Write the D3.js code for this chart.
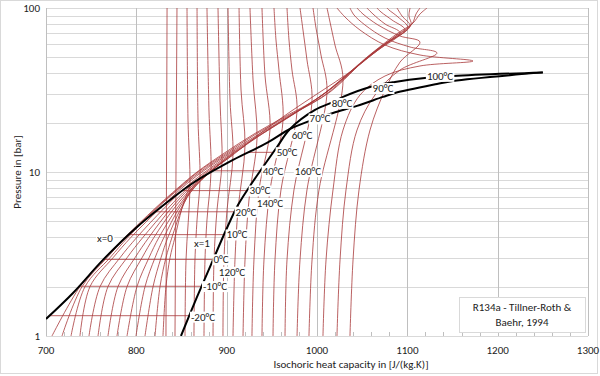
<!DOCTYPE html>
<html>
<head>
<meta charset="utf-8">
<script src="https://cdn.jsdelivr.net/npm/d3@7"></script>
<style>
body { margin: 0; background: #fff; }
text { font-family: Carlito, "Liberation Sans Narrow", "Liberation Sans", sans-serif; }
</style>
</head>
<body>
<svg id="chart" width="600" height="376"></svg>
<script>
// saturation curves, [cv J/(kg.K), p bar]
var satX0 = [[700,1.27],[729.9,1.83],[763.1,2.91],[800.7,4.62],[837.3,6.75],[862.7,8.57],[907,11.84],[944.6,15.03],[970.1,18.29],
  [992.2,20.5],[1017.7,22.9],[1044.3,25.3],[1073,28.7],[1086.3,30.3],[1132.8,34.4],[1150.5,35.9],[1250,40.5]];
var satX1 = [[849.4,1],[867.2,1.73],[884.9,2.91],[899.3,4.43],[912.5,6.29],[925.8,8.22],[940.2,10.73],[955.7,14.2],[970.1,18.29],
  [997.8,23.9],[1017.7,26.7],[1028.8,28.7],[1058.7,33.0],[1086.3,35.4],[1119.5,37.4],[1150.5,38.5],[1250,40.5]];

// two phase isotherms: temperature, p sat, cv at x=0, cv at x=1
var satTemps = [-20, -10, 0, 10, 20, 30, 40, 50];
var satPress = [1.33, 2.01, 2.93, 4.15, 5.72, 7.70, 10.17, 13.18];
var cvLeft  = [703.3, 736, 764.2, 791.9, 821.4, 851.3, 886.2, 924.7];
var cvRight = [858.6, 872.4, 885, 897, 909, 922.6, 937.3, 951.8];

// lines that stay liquid over the whole range
var straightLines = [
  [[832.8,1],[834,100]],
  [[842.8,1],[845,100]]
];

// lines rising from 1 bar, turning at the saturation envelope, going up to 100 bar
var ridgeLines = [
  [[853.9,1],[855,2.91],[859.4,8.22],[857.2,20.7],[856.1,100]],
  [[863.8,1],[864.9,2.91],[867.2,5.1],[870.5,9.06],[868.3,20.7],[867.2,100]],
  [[874.9,1],[876,2.91],[878.2,5.1],[882.7,10.14],[880.4,23.88],[878.2,100]],
  [[884.9,1],[886,2.91],[889.3,5.87],[894.8,11.35],[892.6,27.5],[890.4,100]],
  [[895.9,1],[897,2.91],[900.4,5.87],[907,12.7],[903.7,27.5],[901.5,100]],
  [[907,1],[909.2,2.91],[912.5,5.87],[920.3,14.41],[915.9,31.62],[913.7,100]],
  [[918.1,1],[920.3,2.91],[924.7,6.75],[933.6,16.12],[929.2,36.44],[925.8,100]],
  [[928,1],[930.2,2.91],[935.8,7.77],[948,18.29],[942.4,39.04],[939.1,100]],
  [[939.1,1],[941.3,2.91],[948,7.77],[962.4,20.7],[957.9,41.88],[954.6,63.8],[952.4,100]],
  [[951.3,1],[953.5,2.91],[960.1,7.77],[977.9,23.54],[972.3,41.88],[969,63.8],[966.8,100]],
  [[964.6,1],[966.8,2.91],[974.5,7.77],[994.5,27.09],[988.9,48.2],[984.5,73.4],[981.2,100]],
  [[977.9,1],[981.2,2.91],[988.9,7.77],[1011.1,31.18],[1004.4,51.7],[998.9,75.5],[995.6,100]],
  [[991.1,1],[994.5,2.91],[1002.2,7.77],[1028.8,36.44],[1019.9,59.47],[1014.4,82.1],[1011.1,100]],
  [[1006.6,1],[1010,2.91],[1017.7,7.77],[1028.8,18.03],[1047.6,29.48],[1075.3,38.5],[1114,44.3],[1172.7,47.5],
    [1114,51.7],[1075.3,59.47],[1047.6,73.4],[1031,88.1],[1022.1,100]],
  [[1022.1,1],[1025.5,2.91],[1032.1,7.77],[1044.3,18.03],[1064.2,29.48],[1091.9,41.88],[1132.8,53.17],
    [1103,57.83],[1075.3,65.6],[1053.1,78.8],[1041,90.6],[1036.5,100]],
  [[1036.5,1],[1039.9,2.91],[1046.5,7.77],[1058.7,18.03],[1075.3,31.62],[1091.9,46.8],[1114,62.0],
    [1091.9,67.5],[1067.5,78.8],[1050.9,91.9],[1044.3,100]]
];

// lines inside the dome, some running up the band to the critical region
var domeLines = [
  [[829.5,1],[832.8,2],[837.3,3],[842.8,4],[850.5,6],[859,8.2]],
  [[820.7,1],[826.2,2],[832.8,3],[839.5,4],[850.5,6],[861.6,8],[870.5,9.06]],
  [[809.6,1],[818.5,2],[827.3,3],[835,4],[849.4,6],[863.8,8],[882.6,10.1]],
  [[799.6,1],[809.6,2],[820.7,3],[830.6,4],[847.2,6],[863.8,8],[881.5,10],[894.8,11.4]],
  [[789.7,1],[800.7,2],[814,3],[825.1,4],[845,6],[862.7,8],[881.5,10],[907,12.7]],
  [[778.6,1],[789.7,2],[806.3,3],[819.6,4],[841.7,6],[861.6,8],[881.5,10],[907,13],[920.3,14.4]],
  [[768.6,1],[779.7,2],[798.5,3],[814,4],[838.4,6],[859.4,8],[880.4,10],[909.2,13],[939.1,17.54],[970.1,23.22],
    [1003.3,30.74],[1036.5,40.7],[1067.5,55.4],[1091.9,70.4],[1075.3,79.9],[1062,91.9],[1055.3,100]],
  [[757.6,1],[768.6,2],[789.7,3],[807.4,4],[835,6],[857.2,8],[878.2,10],[908.1,13],[939.1,17.05],[972.3,22.27],
    [1008.9,30.31],[1042.1,43.1],[1071.9,58.7],[1097.4,73.4],[1083,84.5],[1070.9,94.5],[1066.4,100]],
  [[747.6,1],[759.8,2],[781.9,3],[800.7,4],[830.6,6],[853.9,8],[876,10],[905.9,13],[939.1,17.05],[974.5,22.58],
    [1012.2,31.18],[1047.6,45.6],[1078.6,62.0],[1100.7,75.5],[1089.7,88.1],[1079.7,97.2],[1077.5,100]],
  [[737.6,1],[748.7,2],[774.2,3],[794.1,4],[826.2,6],[850.5,8],[872.7,10],[903.7,13],[938,17.05],[976.8,23.22],
    [1016.6,32.52],[1053.1,48.2],[1083,63.8],[1103,77.7],[1094.1,89.4],[1088.6,100]],
  [[727.7,1],[743.2,2],[770.8,3],[790.8,4],[822.9,6],[848.3,8],[870.5,10],[901.5,13],[935.8,17.05],[975.6,22.9],
    [1014.4,30.74],[1056.5,50.3],[1086.3,66.6],[1104.1,78.8],[1101.8,89.4],[1103,100]],
  [[717.7,1],[739.9,2],[767.5,3],[788.6,4],[821.8,6],[847.2,8],[868.3,10],[899.3,13],[932.5,17.05],[967.9,21.95],
    [1008.9,29.48],[1058.7,51.7],[1088.6,68.45],[1105.2,79.9],[1109.6,91.9],[1114,100]],
  [[706.6,1],[737.6,2],[765.3,3],[787.5,4],[820.7,6],[846.1,8],[867.2,10],[897,13],[930.3,17.05],[965.7,21.95],
    [1001.1,28.27],[1060.9,53.17],[1089.7,70.4],[1106.3,81.0],[1114,91.9],[1121.8,100]]
];

// labels: text, cv, p
var tempLabels = [
  ["-20°C", 873.8, 1.31], ["-10°C", 887.1, 2.01], ["0°C", 893.7, 2.93], ["10°C", 911.4, 4.15],
  ["20°C", 921.4, 5.72], ["30°C", 936.9, 7.70], ["40°C", 951.3, 10.17], ["50°C", 966.8, 13.18],
  ["60°C", 983.4, 16.82], ["70°C", 1003.3, 21.17], ["80°C", 1027.7, 26.33], ["90°C", 1073, 32.44],
  ["100°C", 1136.2, 38.5], ["120°C", 905.9, 2.46], ["140°C", 948, 6.47], ["160°C", 990, 10.1],
  ["x=0", 765.3, 3.96], ["x=1", 872.7, 3.69]
];

var xTicks = [700, 800, 900, 1000, 1100, 1200, 1300];
var yTicks = [1, 10, 100];

var svg = d3.select("#chart");
var W = 600, H = 376;
var plotL = 46, plotR = 588, plotT = 8, plotB = 336;

svg.append("rect").attr("x", 0.5).attr("y", 0.5).attr("width", W - 3).attr("height", H - 3)
    .attr("fill", "#fff").attr("stroke", "#d9d9d9");

var x = d3.scaleLinear().domain([700, 1300]).range([plotL, plotR]);
var y = d3.scaleLog().domain([1, 100]).range([plotB, plotT]);

svg.append("clipPath").attr("id", "plot").append("rect")
    .attr("x", plotL).attr("y", plotT).attr("width", plotR - plotL).attr("height", plotB - plotT);

// horizontal grid
var hGrid = [];
[1, 10].forEach(function(d) { for (var k = 1; k <= 9; k++) hGrid.push(d * k); });
hGrid.push(100);
svg.append("g").selectAll("line").data(hGrid).enter().append("line")
    .attr("x1", plotL).attr("x2", plotR)
    .attr("y1", function(d) { return Math.round(y(d)) + 0.5; })
    .attr("y2", function(d) { return Math.round(y(d)) + 0.5; })
    .attr("stroke", "#d9d9d9");

// vertical grid
svg.append("g").selectAll("line").data(xTicks).enter().append("line")
    .attr("x1", function(d) { return Math.round(x(d)) + 0.5; })
    .attr("x2", function(d) { return Math.round(x(d)) + 0.5; })
    .attr("y1", plotT).attr("y2", plotB)
    .attr("stroke", "#bfbfbf");

// minor ticks on x axis
svg.append("g").selectAll("line").data(d3.range(720, 1300, 20)).enter().append("line")
    .attr("x1", function(d) { return Math.round(x(d)) + 0.5; })
    .attr("x2", function(d) { return Math.round(x(d)) + 0.5; })
    .attr("y1", plotB - 4).attr("y2", plotB)
    .attr("stroke", "#bfbfbf");

var plot = svg.append("g").attr("clip-path", "url(#plot)");
var red = "#a8383a";

var line = d3.line().x(function(d) { return x(d[0]); }).y(function(d) { return y(d[1]); })
    .curve(d3.curveCatmullRom.alpha(0.5));

plot.append("g").selectAll("path").data(straightLines.concat(ridgeLines, domeLines)).enter().append("path")
    .attr("d", line).attr("fill", "none").attr("stroke", red).attr("stroke-width", 0.8);

plot.append("g").selectAll("line").data(satTemps).enter().append("line")
    .attr("x1", function(d, i) { return x(cvLeft[i]); })
    .attr("x2", function(d, i) { return x(cvRight[i]); })
    .attr("y1", function(d, i) { return y(satPress[i]); })
    .attr("y2", function(d, i) { return y(satPress[i]); })
    .attr("stroke", red).attr("stroke-width", 0.8);

plot.append("g").selectAll("path").data([satX0, satX1]).enter().append("path")
    .attr("d", line).attr("fill", "none").attr("stroke", "#000").attr("stroke-width", 2);

// labels with white boxes
var lab = svg.append("g").selectAll("g").data(tempLabels).enter().append("g")
    .attr("transform", function(d) { return "translate(" + x(d[1]) + "," + y(d[2]) + ")"; });
lab.append("rect");
lab.append("text").attr("text-anchor", "middle").attr("dy", "0.35em")
    .attr("font-size", 11).attr("fill", "#222").text(function(d) { return d[0]; });
lab.each(function() {
    var g = d3.select(this), b = g.select("text").node().getBBox();
    g.select("rect").attr("x", b.x - 1).attr("y", b.y + 1).attr("width", b.width + 2).attr("height", b.height - 2)
        .attr("fill", "#fff");
});

// axis labels
svg.append("g").selectAll("text").data(xTicks).enter().append("text")
    .attr("x", function(d) { return x(d); }).attr("y", 354)
    .attr("text-anchor", "middle").attr("font-size", 11).attr("fill", "#222")
    .text(function(d) { return d; });

svg.append("g").selectAll("text").data(yTicks).enter().append("text")
    .attr("x", 40).attr("y", function(d) { return y(d) + 4; })
    .attr("text-anchor", "end").attr("font-size", 11).attr("fill", "#222")
    .text(function(d) { return d; });

svg.append("text").attr("x", 351).attr("y", 368).attr("text-anchor", "middle")
    .attr("font-size", 11).attr("fill", "#222").text("Isochoric heat capacity in [J/(kg.K)]");

svg.append("text").attr("transform", "translate(21,172) rotate(-90)").attr("text-anchor", "middle")
    .attr("font-size", 11).attr("fill", "#222").text("Pressure in [bar]");

// legend box
var box = svg.append("g");
box.append("rect").attr("x", 459.5).attr("y", 297.5).attr("width", 126).attr("height", 35)
    .attr("fill", "#fff").attr("stroke", "#d9d9d9");
box.append("text").attr("x", 522).attr("y", 311).attr("text-anchor", "middle")
    .attr("font-size", 11).attr("fill", "#222").text("R134a - Tillner-Roth  &");
box.append("text").attr("x", 522).attr("y", 326).attr("text-anchor", "middle")
    .attr("font-size", 11).attr("fill", "#222").text("Baehr, 1994");
</script>
</body>
</html>
